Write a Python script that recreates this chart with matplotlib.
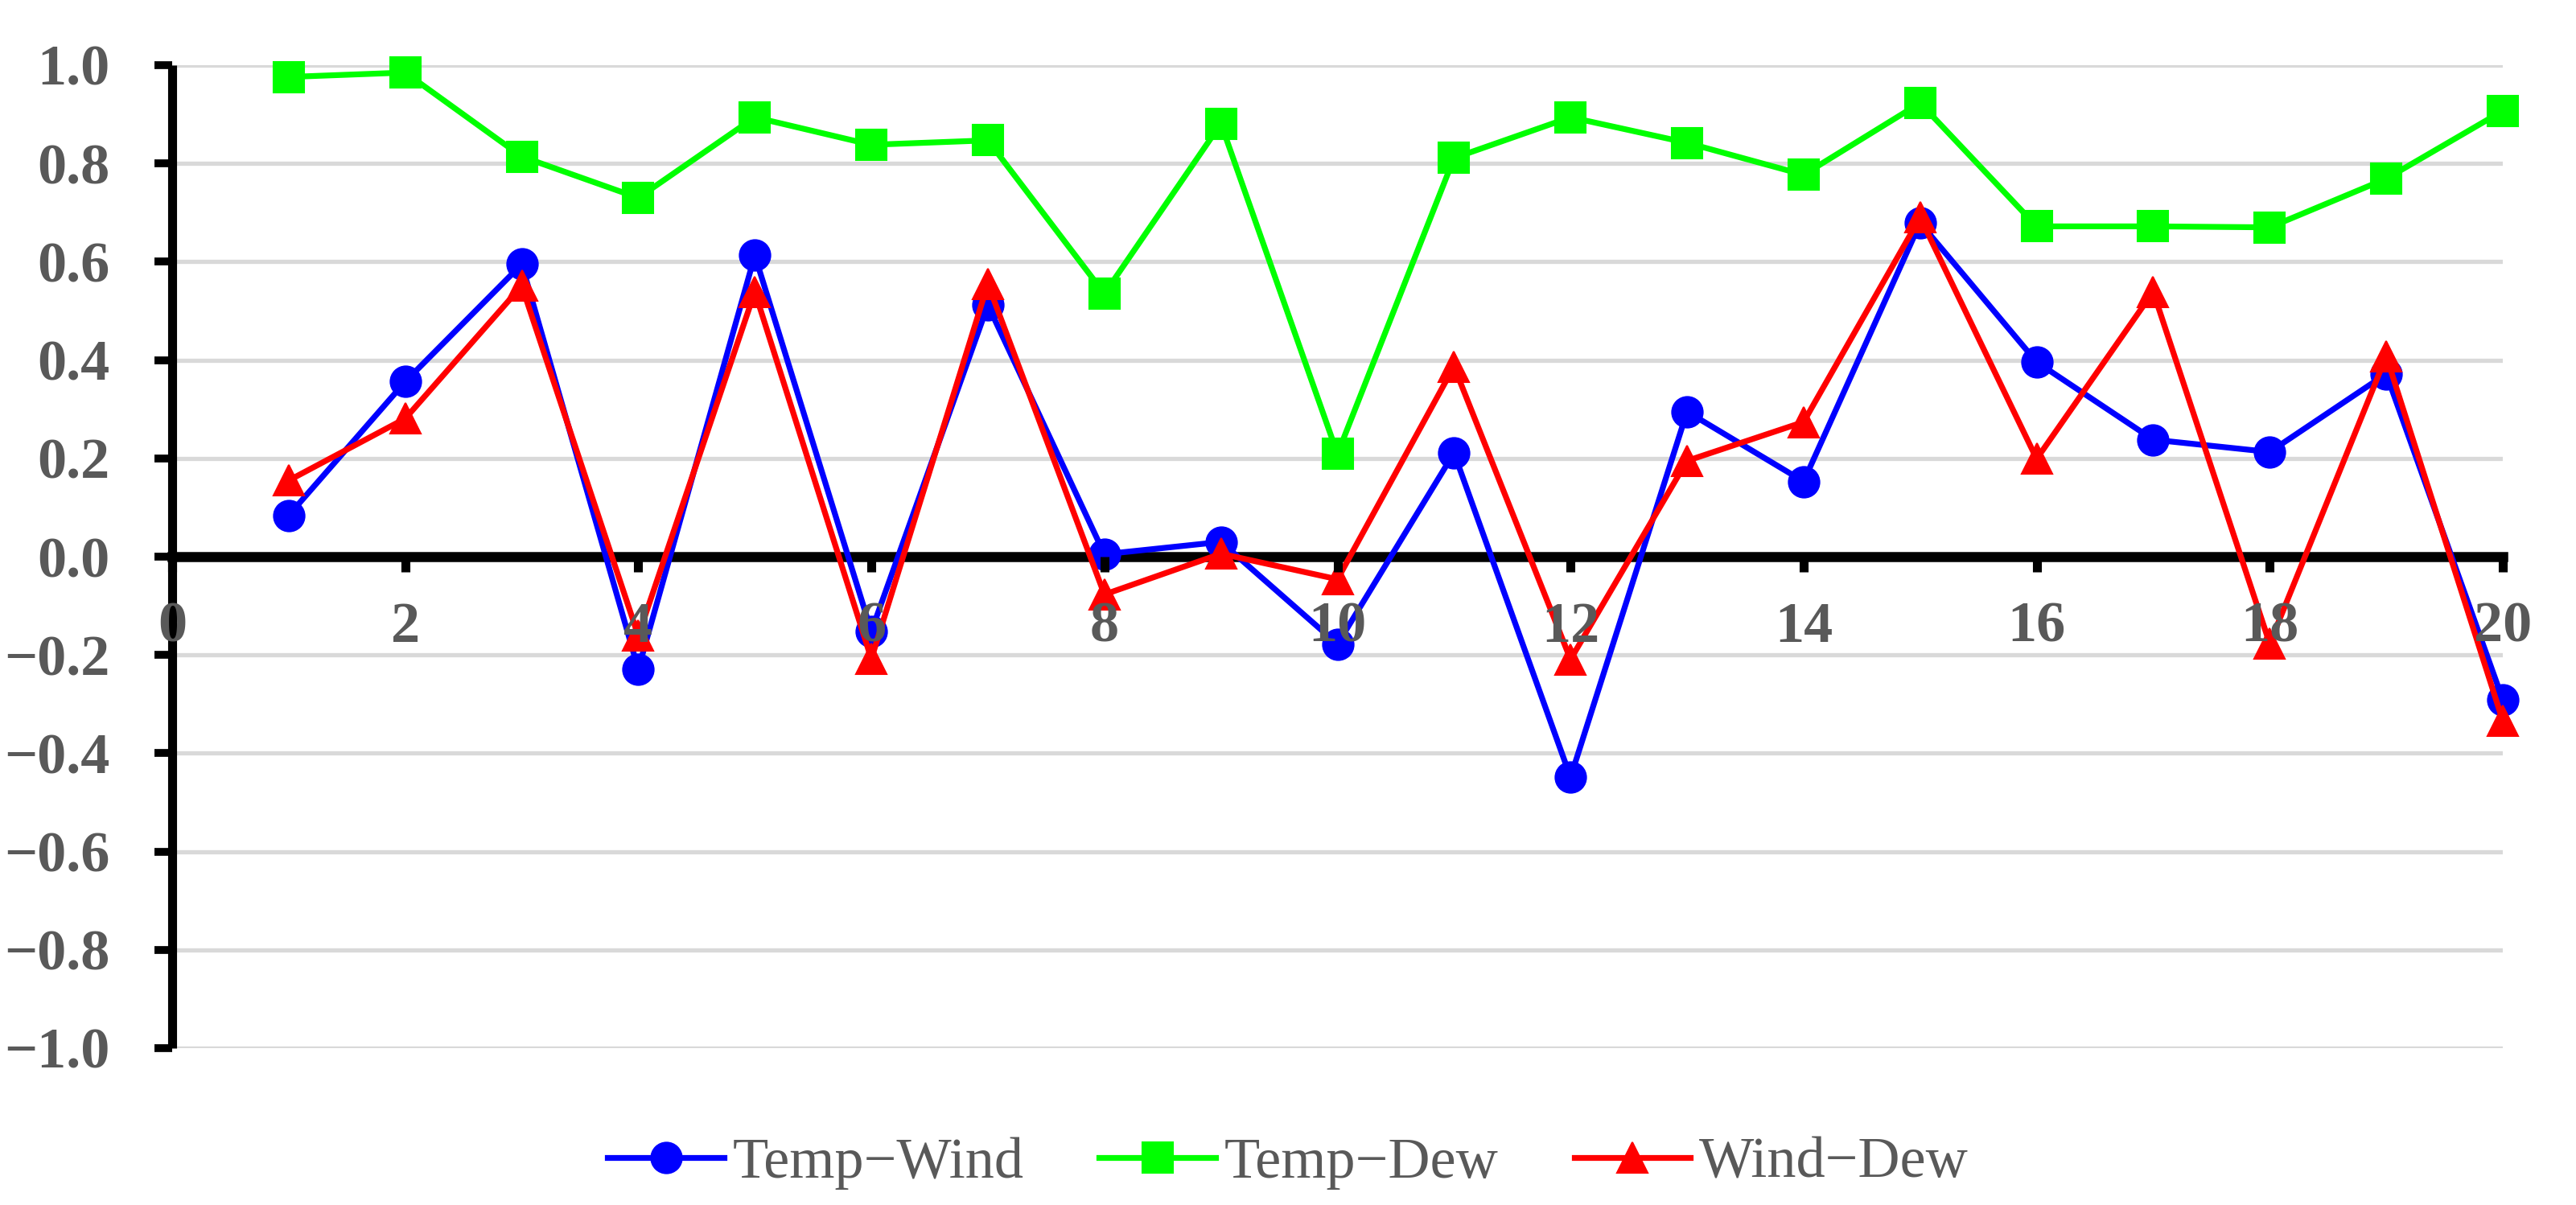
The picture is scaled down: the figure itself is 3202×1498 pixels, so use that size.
import matplotlib
matplotlib.use("Agg")
import matplotlib.pyplot as plt
from matplotlib.ticker import FuncFormatter

x = list(range(1, 21))
temp_wind = [0.084, 0.356, 0.595, -0.229, 0.613, -0.152, 0.512, 0.005, 0.030, -0.178,
             0.211, -0.449, 0.295, 0.153, 0.679, 0.396, 0.238, 0.213, 0.372, -0.291]
temp_dew = [0.976, 0.985, 0.814, 0.730, 0.894, 0.838, 0.847, 0.535, 0.881, 0.209,
            0.811, 0.894, 0.842, 0.777, 0.923, 0.672, 0.672, 0.670, 0.769, 0.907]
wind_dew = [0.155, 0.281, 0.551, -0.161, 0.539, -0.208, 0.555, -0.077, 0.006, -0.046,
            0.387, -0.209, 0.195, 0.274, 0.690, 0.199, 0.539, -0.177, 0.408, -0.334]
labels = ["Temp\u2212Wind", "Temp\u2212Dew", "Wind\u2212Dew"]
xticks = list(range(0, 21, 2))
yticks = [-1.0, -0.8, -0.6, -0.4, -0.2, 0.0, 0.2, 0.4, 0.6, 0.8, 1.0]

plt.rcParams['font.family'] = ['Liberation Serif', 'DejaVu Serif']
gray = '#595959'

fig = plt.figure(figsize=(32.02, 14.98), dpi=100)
ax = fig.add_axes([214/3202, 1-1303/1498, (3111-214)/3202, (1303-81)/1498])

series = [(temp_wind, '#0000FF', 'o'), (temp_dew, '#00FF00', 's'), (wind_dew, '#FF0000', '^')]
for (vals, col, mk), lab in zip(series, labels):
    ax.plot(x, vals, color=col, lw=5.2, marker=mk, markersize=27.5, markeredgewidth=1.5,
            markerfacecolor=col, markeredgecolor=col, label=lab, clip_on=False, zorder=3)

ax.set_xlim(0, 20)
ax.set_ylim(-1, 1)
ax.set_xticks(xticks)
ax.set_yticks(yticks)
ax.yaxis.set_major_formatter(FuncFormatter(lambda v, p: f"{v:.1f}".replace('-', '\u2212')))

ax.spines['top'].set_visible(False)
ax.spines['right'].set_visible(False)
ax.spines['bottom'].set_position(('data', 0))
ax.spines['left'].set_linewidth(8)
ax.spines['bottom'].set_linewidth(9)
ax.spines['left'].set_capstyle('butt')

ax.grid(axis='y', color='#D9D9D9', lw=3.8)
ax.yaxis.set_zorder(0.5)
ax.xaxis.set_zorder(5)

ax.tick_params(axis='y', length=16, width=7, color='black', pad=40,
               labelsize=52, labelcolor=gray)
ax.tick_params(axis='x', length=14, width=8, color='black', pad=26,
               labelsize=52, labelcolor=gray)
for t in ax.get_xticklabels() + ax.get_yticklabels():
    t.set_fontweight('bold')

leg = fig.legend(loc='center', bbox_to_anchor=(0.5, 1-1446/1498), ncol=3, frameon=False,
                 fontsize=52, handlelength=2.0, handletextpad=0.15, columnspacing=1.3)
for t in leg.get_texts():
    t.set_color(gray)

fig.savefig('out.png', dpi=100)
